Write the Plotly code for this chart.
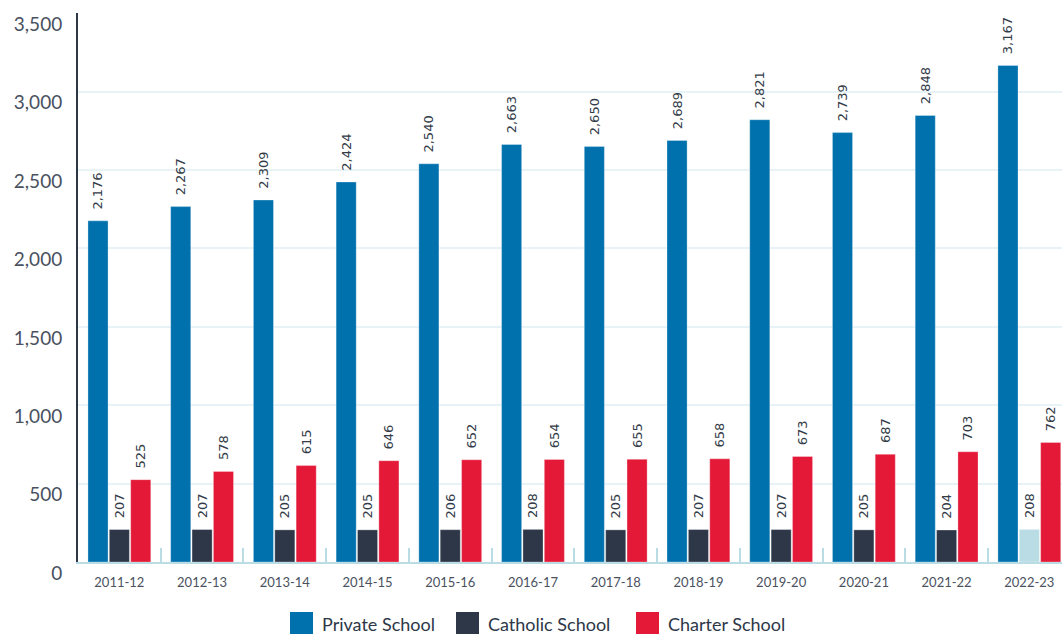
import plotly.graph_objects as go

years = ["2011-12", "2012-13", "2013-14", "2014-15", "2015-16", "2016-17",
         "2017-18", "2018-19", "2019-20", "2020-21", "2021-22", "2022-23"]
private_school = [2176, 2267, 2309, 2424, 2540, 2663, 2650, 2689, 2821, 2739, 2848, 3167]
catholic_school = [207, 207, 205, 205, 206, 208, 205, 207, 207, 205, 204, 208]
charter_school = [525, 578, 615, 646, 652, 654, 655, 658, 673, 687, 703, 762]
series_names = ["Private School", "Catholic School", "Charter School"]
y_ticks = [0, 500, 1000, 1500, 2000, 2500, 3000, 3500]

C_PRIVATE = "#0071ad"
C_CATHOLIC = "#2d3748"
C_CHARTER = "#e31937"
C_HIGHLIGHT = "#b9dce5"
TXT = "#333b48"

catholic_colors = [C_CATHOLIC] * (len(years) - 1) + [C_HIGHLIGHT]

fig = go.Figure()
for name, vals, col in [(series_names[0], private_school, C_PRIVATE),
                        (series_names[1], catholic_school, catholic_colors),
                        (series_names[2], charter_school, C_CHARTER)]:
    fig.add_trace(go.Bar(
        x=years, y=vals, name=name,
        marker=dict(color=col, line=dict(color="rgba(255,255,255,0.6)", width=0.5)),
        texttemplate="\u00a0\u00a0%{y:,}", textposition="outside", textangle=-90,
        constraintext="none",
        textfont=dict(family="DejaVu Sans", size=13, color=TXT),
        cliponaxis=False, showlegend=False,
    ))

fig.update_layout(
    width=1062, height=634,
    margin=dict(l=78, r=0, t=13, b=72),
    paper_bgcolor="white", plot_bgcolor="white",
    barmode="group", bargap=0.225, bargroupgap=0.06,
    font=dict(family="Lato", color=TXT),
    showlegend=False,
)
fig.update_xaxes(
    type="category", range=[-0.5, 11.395],
    showline=True, linecolor="#b9dce5", linewidth=2,
    ticks="inside", tickson="boundaries", ticklen=14, tickcolor="#b9dce5", tickwidth=2,
    tickfont=dict(family="Lato", size=13, color="#4a5160"),
    ticklabelstandoff=7,
    showgrid=False, zeroline=False,
)
fig.update_yaxes(
    range=[0, 3502], tickvals=y_ticks, tickformat=",",
    showline=True, linecolor="#2d3748", linewidth=2,
    showgrid=True, gridcolor="#e8f3f8", gridwidth=2,
    zeroline=False, ticks="",
    tickfont=dict(family="Lato", size=19, color="#4a5160"),
    ticklabelshift=11, ticklabelstandoff=10,
)

# manual legend with large swatches
legend_items = [(series_names[0], C_PRIVATE, 290), (series_names[1], C_CATHOLIC, 456),
                (series_names[2], C_CHARTER, 636)]
W, H = 984.0, 549.0
for name, col, px in legend_items:
    fig.add_shape(type="rect", xref="paper", yref="paper",
                  x0=(px - 78) / W, x1=(px + 23 - 78) / W,
                  y0=(562 - 612) / H, y1=(562 - 636) / H,
                  fillcolor=col, line=dict(width=0))
    fig.add_annotation(xref="paper", yref="paper", x=(px + 30 - 78) / W, y=(562 - 624) / H,
                       text=name, showarrow=False, xanchor="left", yanchor="middle",
                       font=dict(family="Lato", size=18, color="#2d3748"))

fig.write_html("out.html", config={"displayModeBar": False},
               post_script="document.body.style.margin='0';document.body.style.overflow='hidden';")
